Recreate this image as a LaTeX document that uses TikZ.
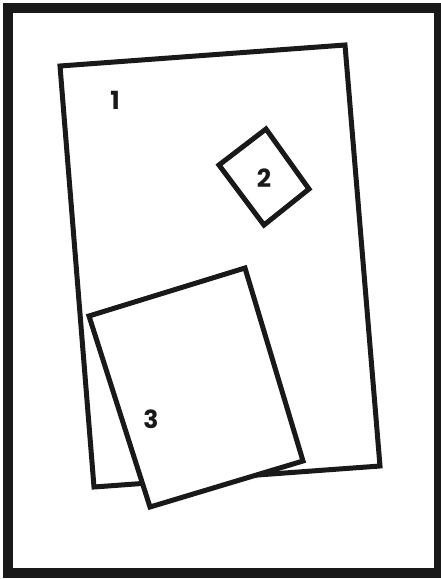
\documentclass[tikz,border=0pt]{standalone}
\usepackage{fontspec}
\newfontfamily\labelfont{Poppins}
\usepackage{tikz}
\usetikzlibrary{
	calc,
	positioning
}

\begin{document}
\begin{tikzpicture}[x=1pt, y=-1pt,
	sheet/.style={draw=black!90, line width=5pt, line join=miter, fill=white},
	num/.style={font=\labelfont\bfseries\fontsize{25}{25}\selectfont, text=black!90}]
	\useasboundingbox (0,0) rectangle (440,579);
	\draw[black!90, line width=10pt] (8,8) rectangle (439,573);
	% large sheet
	\coordinate (A1) at (60,66);
	\coordinate (B1) at (345,45);
	\coordinate (C1) at (380,466);
	\coordinate (D1) at (94,487);
	\draw[sheet] (A1) -- (B1) -- (C1) -- (D1) -- cycle;
	% small square
	\coordinate (A2) at (266,129);
	\coordinate (B2) at (309,189);
	\coordinate (C2) at (264,225);
	\coordinate (D2) at (219,165);
	\draw[sheet] (A2) -- (B2) -- (C2) -- (D2) -- cycle;
	% overlapping sheet
	\coordinate (A3) at (89,316);
	\coordinate (B3) at (245,268);
	\coordinate (C3) at (303,461);
	\coordinate (D3) at (150,507);
	\draw[sheet] (A3) -- (B3) -- (C3) -- (D3) -- cycle;
	\foreach \n/\p in {1/{115,100}, 2/{264,178}, 3/{151,419}}
	\node[num] (lbl\n) at (\p) {\n};
\end{tikzpicture}
\end{document}
